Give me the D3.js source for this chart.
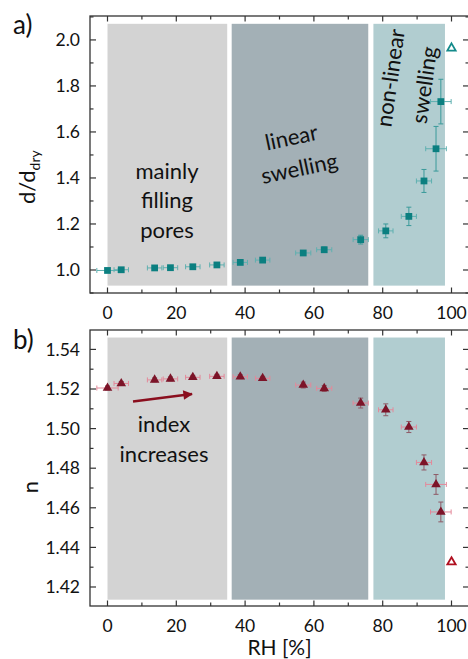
<!DOCTYPE html>
<html><head><meta charset="utf-8">
<script src="https://cdn.jsdelivr.net/npm/d3@7"></script>
<style>body{margin:0;background:#fff}svg{display:block}text{font-family:Lato,"Open Sans",sans-serif;fill:#111}</style>
</head><body><svg id="c" width="468" height="659"></svg>
<script>
// ---------- data ----------
const rh      = [0, 4.0, 13.7, 18.3, 24.8, 31.8, 38.6, 45.1, 56.9, 63.0, 73.6, 80.9, 87.6, 92.0, 95.5, 96.9];
const rhErr   = [3.1, 2.1, 2.1, 2.1, 2.1, 2.1, 2.1, 2.1, 2.2, 2.2, 2.2, 2.1, 2.2, 2.2, 3.0, 3.0];
const dRatio  = [0.998, 1.001, 1.009, 1.010, 1.014, 1.022, 1.033, 1.043, 1.074, 1.088, 1.132, 1.170, 1.233, 1.387, 1.527, 1.732];
const dErr    = [0.004, 0.005, 0.006, 0.006, 0.006, 0.007, 0.008, 0.009, 0.010, 0.012, 0.019, 0.030, 0.040, 0.050, 0.097, 0.097];
const nIndex  = [1.5205, 1.5228, 1.5246, 1.5251, 1.5259, 1.5264, 1.5262, 1.5254, 1.5220, 1.5203, 1.5129, 1.5095, 1.5008, 1.4829, 1.4718, 1.4579];
const nErr    = [0.001, 0.001, 0.001, 0.001, 0.001, 0.001, 0.001, 0.001, 0.0015, 0.0015, 0.0025, 0.003, 0.0028, 0.0038, 0.005, 0.005];
const openA   = {rh: 100, v: 1.964};
const openB   = {rh: 100, v: 1.4326};
const regions = [{x0: 0, x1: 34.8, c: "#d3d3d3"}, {x0: 36.1, x1: 75.8, c: "#a3b0b6"}, {x0: 77.3, x1: 98.1, c: "#b1cdd0"}];
const xTicks  = [0, 20, 40, 60, 80, 100];
const yTicksA = [1.0, 1.2, 1.4, 1.6, 1.8, 2.0];
const yTicksB = [1.42, 1.44, 1.46, 1.48, 1.50, 1.52, 1.54];

// ---------- layout ----------
const svg = d3.select("#c");
const L = 90, R = 469;
const x = d3.scaleLinear().domain([(L - 107.5) / 3.44, (R - 107.5) / 3.44]).range([L, R]);
const panels = [
  {top: 16, bottom: 293, dom: [0.9, 2.104], rect: [0.932, 2.07], major: yTicksA, minorStep: 0.1, fmt: d3.format(".1f"), label: "a)", ly: 34},
  {top: 330, bottom: 606, dom: [1.4104, 1.5498], rect: [1.4136, 1.546], major: yTicksB, minorStep: 0.01, fmt: d3.format(".2f"), label: "b)", ly: 349}
];
panels.forEach(p => { p.y = d3.scaleLinear().domain(p.dom).range([p.bottom, p.top]); });

function drawFrame(p) {
  const g = svg.append("g");
  regions.forEach(r => {
    g.append("rect").attr("x", x(r.x0)).attr("width", x(r.x1) - x(r.x0))
      .attr("y", p.y(p.rect[1])).attr("height", p.y(p.rect[0]) - p.y(p.rect[1])).attr("fill", r.c);
  });
  g.append("rect").attr("x", L).attr("y", p.top).attr("width", R - L).attr("height", p.bottom - p.top)
    .attr("fill", "none").attr("stroke", "#333").attr("stroke-width", 1.3);
  const xMinor = d3.range(0, 101, 10);
  xMinor.forEach(v => {
    const len = v % 20 === 0 ? 5.5 : 3.5;
    g.append("line").attr("x1", x(v)).attr("x2", x(v)).attr("y1", p.bottom).attr("y2", p.bottom - len).attr("stroke", "#333").attr("stroke-width", 1.2);
    g.append("line").attr("x1", x(v)).attr("x2", x(v)).attr("y1", p.top).attr("y2", p.top + len).attr("stroke", "#333").attr("stroke-width", 1.2);
  });
  xTicks.forEach(v => {
    g.append("text").attr("x", x(v)).attr("y", p.bottom + 26).attr("text-anchor", "middle")
      .attr("font-size", 17.5).text(v);
  });
  const lo = p.major[0] - p.minorStep, hi = p.major[p.major.length - 1] + p.minorStep;
  const n = Math.round((hi - lo) / p.minorStep);
  for (let i = 0; i <= n; i++) {
    const v = lo + i * p.minorStep;
    if (v < p.dom[0] || v > p.dom[1]) continue;
    const isMajor = p.major.some(m => Math.abs(m - v) < 1e-6);
    const len = isMajor ? 6 : 3.5;
    g.append("line").attr("x1", L).attr("x2", L + len).attr("y1", p.y(v)).attr("y2", p.y(v)).attr("stroke", "#333").attr("stroke-width", 1.2);
    g.append("line").attr("x1", R).attr("x2", R - len).attr("y1", p.y(v)).attr("y2", p.y(v)).attr("stroke", "#333").attr("stroke-width", 1.2);
  }
  p.major.forEach(v => {
    g.append("text").attr("x", 80).attr("y", p.y(v)).attr("dy", "0.36em").attr("text-anchor", "end")
      .attr("font-size", 17.5).text(p.fmt(v));
  });
  g.append("text").attr("x", 13).attr("y", p.ly).attr("font-size", 26).text(p.label);
}
panels.forEach(drawFrame);

// ---------- panel a annotations ----------
const pa = panels[0], pb = panels[1];
[["mainly", 179], ["filling", 208], ["pores", 238]].forEach(([t, yy]) =>
  svg.append("text").attr("x", 167).attr("y", yy).attr("text-anchor", "middle").attr("font-size", 22).text(t));
svg.append("text").attr("transform", "translate(293,145) rotate(-12)").attr("text-anchor", "middle").attr("font-size", 22).text("linear");
svg.append("text").attr("transform", "translate(301,176) rotate(-12)").attr("text-anchor", "middle").attr("font-size", 22).text("swelling");
svg.append("text").attr("transform", "translate(398,79) rotate(-82)").attr("text-anchor", "middle").attr("font-size", 22).text("non-linear");
svg.append("text").attr("transform", "translate(432,86) rotate(-82)").attr("text-anchor", "middle").attr("font-size", 22).text("swelling");

// ---------- panel b annotations ----------
svg.append("text").attr("x", 164).attr("y", 432).attr("text-anchor", "middle").attr("font-size", 22).text("index");
svg.append("text").attr("x", 164).attr("y", 462).attr("text-anchor", "middle").attr("font-size", 22).text("increases");
svg.append("defs").append("marker").attr("id", "ah").attr("viewBox", "0 0 10 10").attr("refX", 9).attr("refY", 5)
  .attr("markerWidth", 5).attr("markerHeight", 4).attr("orient", "auto")
  .append("path").attr("d", "M0,0L10,5L0,10z").attr("fill", "#8a0e1e");
svg.append("line").attr("x1", 133).attr("y1", 401.5).attr("x2", 192).attr("y2", 394)
  .attr("stroke", "#8a0e1e").attr("stroke-width", 2.4).attr("marker-end", "url(#ah)");

// ---------- axis titles ----------
const ylab = svg.append("text").attr("transform", "translate(35,204) rotate(-90)").attr("font-size", 22);
ylab.append("tspan").text("d/d");
ylab.append("tspan").attr("font-size", 14).attr("dy", 5).text("dry");
svg.append("text").attr("transform", "translate(38,487) rotate(-90)").attr("text-anchor", "middle").attr("font-size", 22).text("n");
svg.append("text").attr("x", (L + R) / 2).attr("y", 655).attr("text-anchor", "middle").attr("font-size", 21).text("RH [%]");

// ---------- data marks ----------
function errorBars(p, vals, errs, cx, cy) {
  const g = svg.append("g");
  rh.forEach((r, i) => {
    const xc = x(r), yc = p.y(vals[i]);
    const xl = x(r - rhErr[i]), xr = x(r + rhErr[i]);
    g.append("line").attr("x1", xl).attr("x2", xr).attr("y1", yc).attr("y2", yc).attr("stroke", cx).attr("stroke-width", 1);
    [xl, xr].forEach(xx => g.append("line").attr("x1", xx).attr("x2", xx).attr("y1", yc - 2.5).attr("y2", yc + 2.5).attr("stroke", cx).attr("stroke-width", 1));
    const yt = p.y(vals[i] + errs[i]), yb = p.y(vals[i] - errs[i]);
    g.append("line").attr("x1", xc).attr("x2", xc).attr("y1", yt).attr("y2", yb).attr("stroke", cy).attr("stroke-width", 1);
    [yt, yb].forEach(yy => g.append("line").attr("x1", xc - 2.5).attr("x2", xc + 2.5).attr("y1", yy).attr("y2", yy).attr("stroke", cy).attr("stroke-width", 1));
  });
}
errorBars(pa, dRatio, dErr, "#5fb0b0", "#3a9a9a");
errorBars(pb, nIndex, nErr, "#e3899a", "#8e5a66");

const sq = d3.symbol().type(d3.symbolSquare).size(46);
svg.append("g").selectAll("path").data(rh).join("path")
  .attr("d", sq).attr("transform", (r, i) => `translate(${x(r)},${pa.y(dRatio[i])})`).attr("fill", "#0b7f80");
const tri = d3.symbol().type(d3.symbolTriangle).size(40);
svg.append("g").selectAll("path").data(rh).join("path")
  .attr("d", tri).attr("transform", (r, i) => `translate(${x(r)},${pb.y(nIndex[i])})`).attr("fill", "#7c1428");

svg.append("path").attr("d", d3.symbol().type(d3.symbolTriangle).size(30))
  .attr("transform", `translate(${x(openA.rh)},${pa.y(openA.v)})`).attr("fill", "#fff").attr("stroke", "#138a8a").attr("stroke-width", 1.8);
svg.append("path").attr("d", d3.symbol().type(d3.symbolTriangle).size(30))
  .attr("transform", `translate(${x(openB.rh)},${pb.y(openB.v)})`).attr("fill", "#fff").attr("stroke", "#b01020").attr("stroke-width", 1.8);
</script></body></html>
